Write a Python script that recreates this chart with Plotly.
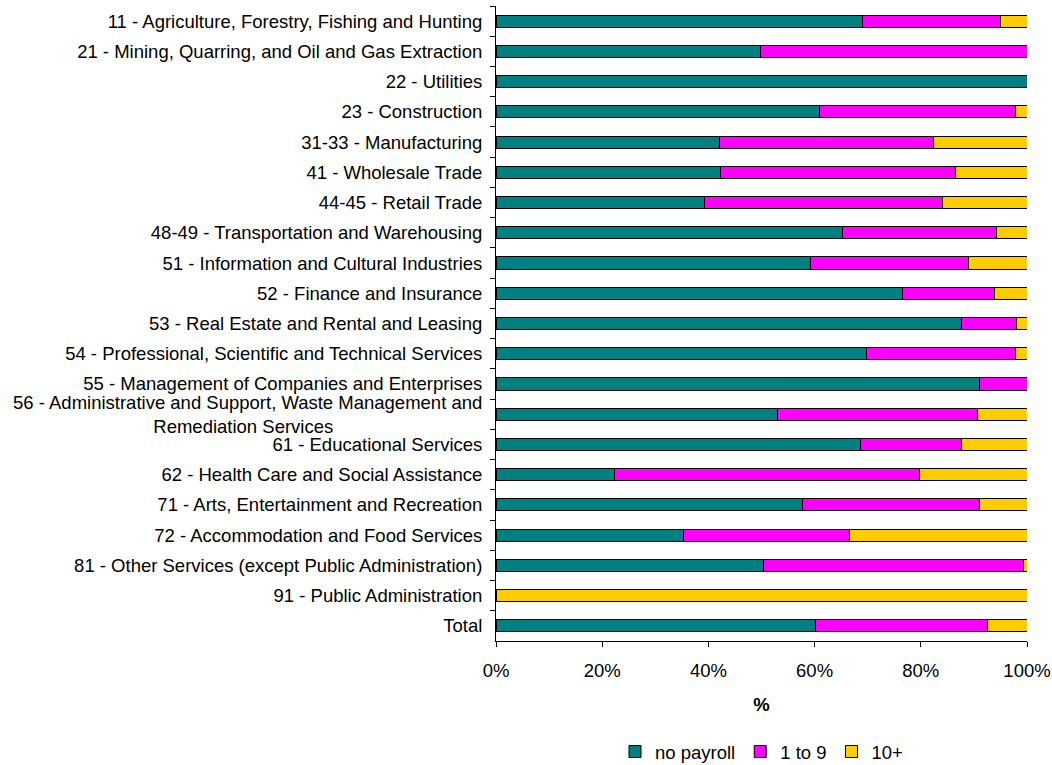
import plotly.graph_objects as go

categories = [
    "11 - Agriculture, Forestry, Fishing and Hunting",
    "21 - Mining, Quarring, and Oil and Gas Extraction",
    "22 - Utilities",
    "23 - Construction",
    "31-33 - Manufacturing",
    "41 - Wholesale Trade",
    "44-45 - Retail Trade",
    "48-49 - Transportation and Warehousing",
    "51 - Information and Cultural Industries",
    "52 - Finance and Insurance",
    "53 - Real Estate and Rental and Leasing",
    "54 - Professional, Scientific and Technical Services",
    "55 - Management of Companies and Enterprises",
    "56 - Administrative and Support, Waste Management and<br>Remediation Services" + "\u00a0" * 29,
    "61 - Educational Services",
    "62 - Health Care and Social Assistance",
    "71 - Arts, Entertainment and Recreation",
    "72 - Accommodation and Food Services",
    "81 - Other Services (except Public Administration)",
    "91 - Public Administration",
    "Total",
]

no_payroll = [69.0, 49.9, 100.0, 60.9, 42.0, 42.3, 39.3, 65.2, 59.3, 76.6, 87.6,
              69.8, 91.0, 53.0, 68.7, 22.3, 57.7, 35.3, 50.4, 0.0, 60.1]
one_to_nine = [26.1, 50.1, 0.0, 36.9, 40.3, 44.2, 44.8, 29.1, 29.6, 17.2, 10.5,
               28.0, 9.0, 37.6, 18.9, 57.5, 33.3, 31.2, 48.9, 0.0, 32.5]
ten_plus = [4.9, 0.0, 0.0, 2.2, 17.7, 13.5, 15.9, 5.7, 11.1, 6.2, 1.9,
            2.2, 0.0, 9.4, 12.4, 20.2, 9.0, 33.5, 0.7, 100.0, 7.4]

series = [
    ("no payroll", no_payroll, "#008080"),
    ("1 to 9", one_to_nine, "#FF00FF"),
    ("10+", ten_plus, "#FFCC00"),
]

fig = go.Figure()
for name, vals, color in series:
    fig.add_trace(go.Bar(
        y=categories,
        x=[v / 100 for v in vals],
        name=name,
        orientation="h",
        width=0.4,
        marker=dict(color=color, line=dict(color="black", width=1)),
    ))

font = "Liberation Sans, Arial, sans-serif"
fig.update_layout(
    barmode="stack",
    width=1052,
    height=765,
    margin=dict(l=496, r=25, t=6, b=124),
    plot_bgcolor="white",
    paper_bgcolor="white",
    font=dict(family=font, size=18.5, color="black"),
    showlegend=True,
    legend=dict(
        orientation="h",
        x=0.5, xanchor="center", xref="paper",
        y=13 / 765, yanchor="middle", yref="container",
        font=dict(size=18.5),
        traceorder="normal",
        itemwidth=30,
    ),
)
fig.update_xaxes(
    range=[0, 1],
    tickformat=".0%",
    dtick=0.2,
    showgrid=False,
    showline=True,
    linecolor="black",
    linewidth=1,
    ticks="outside",
    ticklen=5,
    tickcolor="black",
    ticklabelstandoff=8,
    title=dict(text="<b>%</b>", font=dict(size=18.5), standoff=17),
    zeroline=False,
    automargin=False,
)
fig.update_yaxes(
    type="category",
    autorange="reversed",
    showgrid=False,
    showline=True,
    linecolor="black",
    linewidth=1,
    ticks="outside",
    ticklen=5,
    tickcolor="black",
    tickson="boundaries",
    ticklabelstandoff=9,
    automargin=False,
)

fig.write_html(
    "out.html",
    config={"displayModeBar": False},
    post_script="document.body.style.margin='0';",
)
